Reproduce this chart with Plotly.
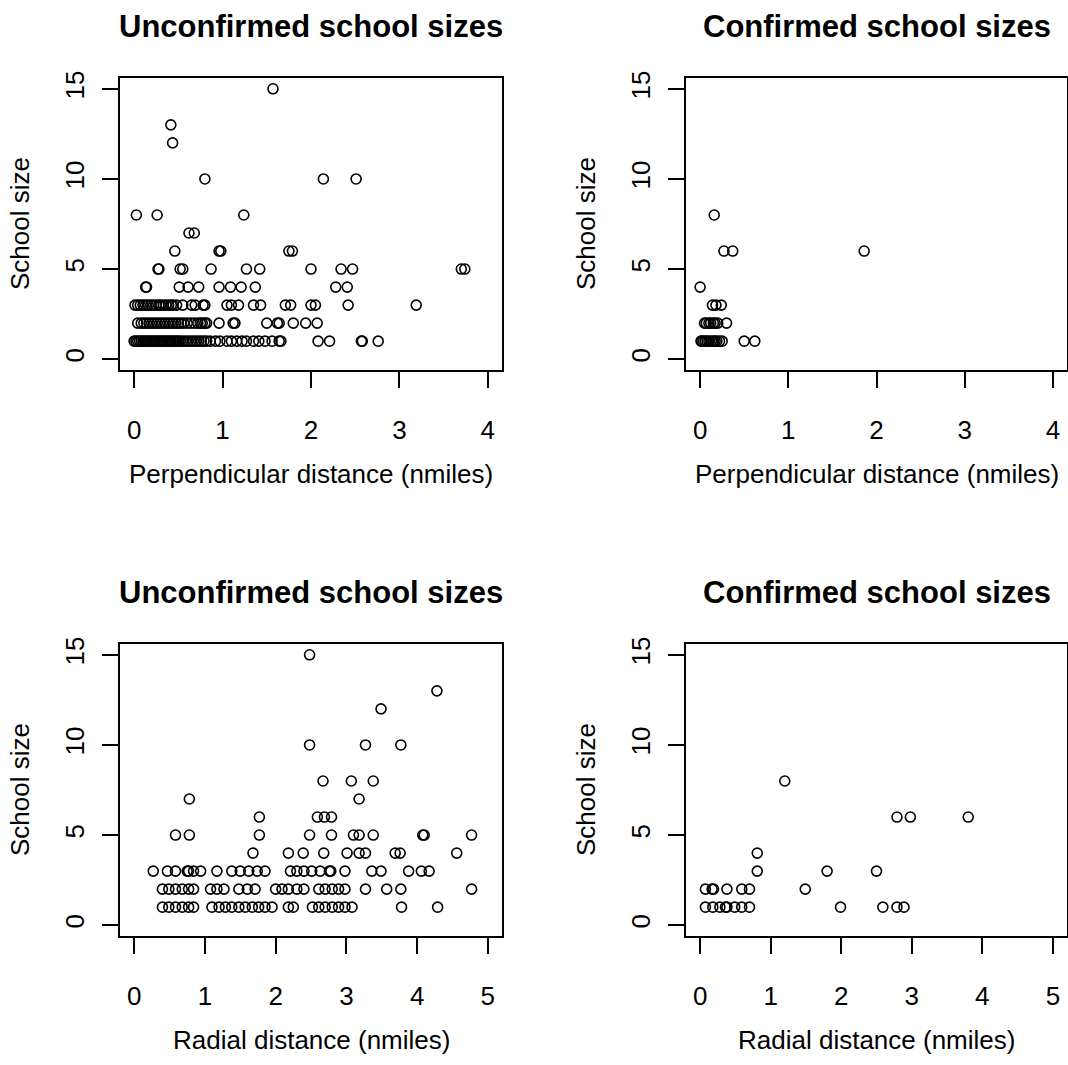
import plotly.graph_objects as go

# ---------------- data ----------------
# Unconfirmed school sizes vs perpendicular distance (nmiles)
unconf_perp_x = [1.57,
                 0.415,
                 0.435,
                 0.80, 2.14, 2.51,
                 0.025, 0.26, 1.24,
                 0.62, 0.68,
                 0.46, 0.96, 0.98, 1.75, 1.79,
                 0.27, 0.28, 0.52, 0.55, 0.87, 1.27, 1.42, 2.00, 2.34, 2.47, 3.70, 3.74,
                 0.13, 0.14, 0.51, 0.61, 0.73, 0.96, 1.09, 1.21, 1.37, 2.28, 2.41,
                 0.01, 0.04, 0.07, 0.10, 0.13, 0.16, 0.19, 0.22, 0.25, 0.28, 0.30, 0.33, 0.36, 0.39, 0.42,
                 0.44, 0.48, 0.55, 0.65, 0.69, 0.78, 0.80, 1.05, 1.10, 1.18, 1.35, 1.43, 1.71, 1.77, 2.00,
                 2.05, 2.42, 3.19,
                 0.04, 0.08, 0.11, 0.14, 0.17, 0.20, 0.23, 0.26, 0.29, 0.32, 0.35, 0.38, 0.41, 0.44, 0.47,
                 0.50, 0.53, 0.56, 0.60, 0.64, 0.68, 0.72, 0.75, 0.77, 0.80, 0.82, 0.96, 1.12, 1.14, 1.50,
                 1.62, 1.64, 1.80, 1.94, 2.07,
                 0.00, 0.02, 0.04, 0.06, 0.08, 0.10, 0.12, 0.14, 0.16, 0.18, 0.20, 0.22, 0.24, 0.26, 0.28,
                 0.30, 0.32, 0.34, 0.36, 0.38, 0.40, 0.42, 0.44, 0.46, 0.48, 0.50, 0.52, 0.55, 0.58, 0.61,
                 0.64, 0.67, 0.70, 0.73, 0.76, 0.79, 0.82, 0.86, 0.92, 0.97, 1.05, 1.10, 1.16, 1.22, 1.27,
                 1.35, 1.41, 1.48, 1.56, 1.64, 1.66, 2.08, 2.21, 2.57, 2.58, 2.76]
unconf_perp_y = ([15] + [13] + [12] + [10] * 3 + [8] * 3 + [7] * 2 + [6] * 5 + [5] * 12 + [4] * 11
                 + [3] * 33 + [2] * 35 + [1] * 56)

# Confirmed school sizes vs perpendicular distance (nmiles)
conf_perp_x = [0.16,
               0.27, 0.37, 1.86,
               0.00,
               0.14, 0.18, 0.24,
               0.05, 0.07, 0.10, 0.12, 0.15, 0.17, 0.20, 0.30,
               0.01, 0.02, 0.04, 0.06, 0.08, 0.10, 0.13, 0.15, 0.17, 0.19, 0.22, 0.25, 0.50, 0.62]
conf_perp_y = [8] + [6] * 3 + [4] + [3] * 3 + [2] * 8 + [1] * 14

# Unconfirmed school sizes vs radial distance (nmiles)
unconf_rad_x = [2.48,
                4.28,
                3.49,
                2.48, 3.27, 3.77,
                2.67, 3.07, 3.38,
                0.78, 3.18,
                1.77, 2.59, 2.69, 2.79,
                0.585, 0.78, 1.77, 2.48, 2.79, 3.10, 3.18, 3.38, 4.08, 4.10, 4.77,
                1.68, 2.18, 2.39, 2.68, 3.01, 3.18, 3.27, 3.69, 3.76, 4.56,
                0.27, 0.47, 0.585, 0.75, 0.77, 0.84, 0.94, 1.17, 1.38, 1.50, 1.62, 1.74, 1.85, 2.21,
                2.30, 2.40, 2.51, 2.63, 2.76, 2.78, 2.98, 3.36, 3.49, 3.88, 4.06, 4.17,
                0.40, 0.49, 0.585, 0.68, 0.77, 0.84, 1.08, 1.17, 1.27, 1.48, 1.60, 1.71, 2.00, 2.09,
                2.18, 2.30, 2.40, 2.61, 2.70, 2.80, 2.89, 2.98, 3.27, 3.57, 3.77, 4.77,
                0.40, 0.49, 0.585, 0.68, 0.77, 0.84, 1.10, 1.20, 1.29, 1.38, 1.48, 1.57, 1.67, 1.76,
                1.85, 1.95, 2.18, 2.25, 2.52, 2.61, 2.70, 2.80, 2.89, 2.98, 3.08, 3.78, 4.29]
unconf_rad_y = ([15] + [13] + [12] + [10] * 3 + [8] * 3 + [7] * 2 + [6] * 4 + [5] * 11 + [4] * 10
                + [3] * 26 + [2] * 26 + [1] * 27)

# Confirmed school sizes vs radial distance (nmiles)
conf_rad_x = [1.20,
              2.79, 2.98, 3.80,
              0.81,
              0.81, 1.80, 2.50,
              0.075, 0.17, 0.19, 0.38, 0.59, 0.70, 1.49,
              0.075, 0.18, 0.28, 0.36, 0.38, 0.49, 0.59, 0.70, 1.99, 2.59, 2.79, 2.89]
conf_rad_y = [8] + [6] * 3 + [4] + [3] * 3 + [2] * 7 + [1] * 12

panel_titles = ["Unconfirmed school sizes", "Confirmed school sizes",
                "Unconfirmed school sizes", "Confirmed school sizes"]
x_titles = ["Perpendicular distance (nmiles)", "Perpendicular distance (nmiles)",
            "Radial distance (nmiles)", "Radial distance (nmiles)"]
y_title = "School size"
x_ticks_perp = [0, 1, 2, 3, 4]
x_ticks_rad = [0, 1, 2, 3, 4, 5]
y_ticks = [0, 5, 10, 15]

# ---------------- layout geometry (pixels) ----------------
W, H = 1068, 1065
FONT = "Liberation Sans, Arial, Helvetica, sans-serif"
boxes = [  # (left, right, top, bottom) in pixels
    (120, 502, 78, 370),
    (686, 1067, 78, 370),
    (120, 502, 644, 936),
    (686, 1067, 644, 936),
]

datasets = [(unconf_perp_x, unconf_perp_y), (conf_perp_x, conf_perp_y),
            (unconf_rad_x, unconf_rad_y), (conf_rad_x, conf_rad_y)]

fig = go.Figure()
layout = dict(width=W, height=H, margin=dict(l=0, r=0, t=0, b=0),
              paper_bgcolor="white", plot_bgcolor="white", showlegend=False,
              font=dict(family=FONT, color="black"))
annotations = []

for i, ((xs, ys), (l, r, t, b)) in enumerate(zip(datasets, boxes)):
    n = "" if i == 0 else str(i + 1)
    fig.add_trace(go.Scatter(
        x=xs, y=ys, mode="markers", xaxis="x" + n, yaxis="y" + n,
        marker=dict(symbol="circle-open", size=10, color="black",
                    line=dict(width=1.6, color="black")),
        hoverinfo="x+y"))
    perp = i < 2
    xt = x_ticks_perp if perp else x_ticks_rad
    xr = [-0.16, 4.16] if perp else [-0.2, 5.2]
    common = dict(showline=True, mirror=True, linecolor="black", linewidth=1.5,
                  ticks="outside", ticklen=16, tickwidth=1.5, tickcolor="black",
                  showgrid=False, zeroline=False, automargin=False,
                  tickfont=dict(family=FONT, size=26, color="black"))
    layout["xaxis" + n] = dict(common, domain=[l / W, r / W], range=xr,
                               tickvals=xt, ticktext=[str(v) for v in xt],
                               anchor="y" + n, ticklabelstandoff=20)
    layout["yaxis" + n] = dict(common, domain=[1 - b / H, 1 - t / H], range=[-0.6, 15.6],
                               tickvals=y_ticks, ticktext=[str(v) for v in y_ticks],
                               anchor="x" + n, tickangle=-90, ticklabelstandoff=8)
    cx = (l + r) / 2
    # main title
    annotations.append(dict(text="<b>" + panel_titles[i] + "</b>", xref="paper", yref="paper",
                            x=cx / W, y=1 - (t - 52) / H, xanchor="center", yanchor="middle",
                            showarrow=False, font=dict(family=FONT, size=31, color="black")))
    # x title
    annotations.append(dict(text=x_titles[i], xref="paper", yref="paper",
                            x=cx / W, y=1 - (b + 104) / H, xanchor="center", yanchor="middle",
                            showarrow=False, font=dict(family=FONT, size=26, color="black")))
    # y title
    annotations.append(dict(text=y_title, xref="paper", yref="paper", textangle=-90,
                            x=(l - 100) / W, y=1 - ((t + b) / 2) / H, xanchor="center",
                            yanchor="middle", showarrow=False,
                            font=dict(family=FONT, size=26, color="black")))

layout["annotations"] = annotations
fig.update_layout(**layout)
fig.write_html("out.html")
